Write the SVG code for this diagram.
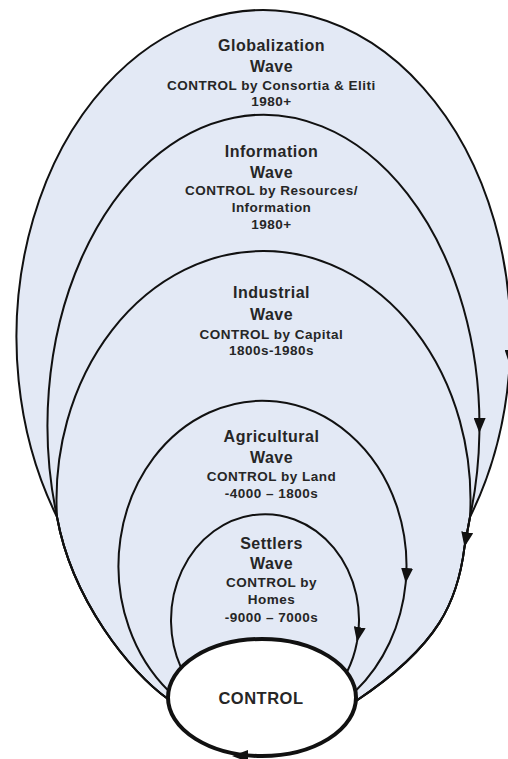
<svg xmlns="http://www.w3.org/2000/svg" width="508" height="759" viewBox="0 0 508 759">
  <defs>
    <marker id="arrow" viewBox="0 0 15 12" refX="15" refY="6" markerWidth="15" markerHeight="12" markerUnits="userSpaceOnUse" orient="auto">
      <path d="M0,0 L15,6 L0,12 z" fill="#111"/>
    </marker>
    <style>
      .wave{fill:none;stroke:#111;stroke-width:2}
      .t{font-family:"Liberation Sans",Arial,sans-serif;font-weight:bold;fill:#262626;text-anchor:middle;letter-spacing:0.5px}
      .h{font-size:16px}
      .s{font-size:13.5px}
    </style>
  </defs>

  <rect width="508" height="759" fill="#fff"/>

  <!-- shaded area enclosed by the outermost wave -->
  <path id="field" d="M168,699 C130,672 72,600 57,517 A247,327.3 0 1 1 470,517 L464.5,547 C458,600 440,645 356,701 Z" fill="#e3e9f5"/>

  <!-- wave loops leaving and returning to CONTROL -->
  <g id="connectors">
    <path class="wave" d="M168,699 C130,672 72,600 57,517 A247,327.3 0 1 1 509.6,365" marker-end="url(#arrow)"/>
    <path class="wave" d="M509.6,365 A247,327.3 0 0 1 470,517 L464.5,547 C458,600 440,645 356,701"/>

    <path class="wave" d="M168,699 C130,672 72,600 57,517 A216,310.9 0 1 1 479.4,433" marker-end="url(#arrow)"/>
    <path class="wave" d="M479.4,433 A216,310.9 0 0 1 470,517 L464.5,547 C458,600 440,645 356,701"/>

    <path class="wave" d="M168,699 C130,672 72,600 57,517 A207,248.7 0 1 1 470,517 L464.5,547" marker-end="url(#arrow)"/>
    <path class="wave" d="M464.5,547 C458,600 440,645 356,701"/>

    <path class="wave" d="M168.7,691 A144,165 0 1 1 405.7,583" marker-end="url(#arrow)"/>
    <path class="wave" d="M405.7,583 A144,165 0 0 1 355.5,691"/>

    <path class="wave" d="M181,667.7 A94,106 0 1 1 357,642" marker-end="url(#arrow)"/>
    <path class="wave" d="M357,642 A94,106 0 0 1 347,672"/>
  </g>

  <g id="wave-globalization">
    <text class="t h" x="271.5" y="51">Globalization</text>
    <text class="t h" x="271.5" y="72">Wave</text>
    <text class="t s" x="271.5" y="90">CONTROL by Consortia &amp; Eliti</text>
    <text class="t s" x="271.5" y="106">1980+</text>
  </g>

  <g id="wave-information">
    <text class="t h" x="271.5" y="157">Information</text>
    <text class="t h" x="271.5" y="178">Wave</text>
    <text class="t s" x="271.5" y="195">CONTROL by Resources/</text>
    <text class="t s" x="271.5" y="212">Information</text>
    <text class="t s" x="271.5" y="229">1980+</text>
  </g>

  <g id="wave-industrial">
    <text class="t h" x="271.5" y="298">Industrial</text>
    <text class="t h" x="271.5" y="320">Wave</text>
    <text class="t s" x="271.5" y="338.5">CONTROL by Capital</text>
    <text class="t s" x="271.5" y="355">1800s-1980s</text>
  </g>

  <g id="wave-agricultural">
    <text class="t h" x="271.5" y="442">Agricultural</text>
    <text class="t h" x="271.5" y="463">Wave</text>
    <text class="t s" x="271.5" y="480.5">CONTROL by Land</text>
    <text class="t s" x="271.5" y="498">-4000 – 1800s</text>
  </g>

  <g id="wave-settlers">
    <text class="t h" x="271.5" y="549">Settlers</text>
    <text class="t h" x="271.5" y="569">Wave</text>
    <text class="t s" x="271.5" y="587">CONTROL by</text>
    <text class="t s" x="271.5" y="604">Homes</text>
    <text class="t s" x="271.5" y="622">-9000 – 7000s</text>
  </g>

  <g id="control">
    <ellipse cx="262" cy="697.5" rx="94" ry="58.5" fill="#fff" stroke="#111" stroke-width="4"/>
    <polygon points="232,756 248,750 248,762" fill="#111"/>
    <text class="t" x="261" y="704" font-size="16.5px">CONTROL</text>
  </g>
</svg>
